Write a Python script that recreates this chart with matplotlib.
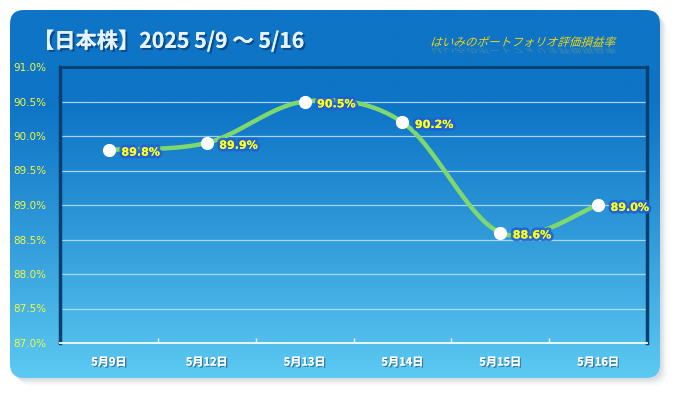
import numpy as np
import matplotlib
matplotlib.use("Agg")
import matplotlib.pyplot as plt
from matplotlib.patches import FancyBboxPatch, PathPatch
from matplotlib.textpath import TextPath
from matplotlib.font_manager import FontProperties
from matplotlib.transforms import Affine2D
import matplotlib.patheffects as pe

plt.rcParams['font.family'] = ['Noto Sans CJK JP', 'DejaVu Sans']

# ---- data ----
categories = ["5月9日", "5月12日", "5月13日", "5月14日", "5月15日", "5月16日"]
values = [89.8, 89.9, 90.5, 90.2, 88.6, 89.0]
y_ticks = [87.0, 87.5, 88.0, 88.5, 89.0, 89.5, 90.0, 90.5, 91.0]
title = "【日本株】2025 5/9 ～ 5/16"
subtitle = "はいみのポートフォリオ評価損益率"

W, H = 675, 393
fig = plt.figure(figsize=(W / 100, H / 100), dpi=100)
fig.patch.set_facecolor("white")

# ---- background panel ----
bg = fig.add_axes([0, 0, 1, 1])
bg.set_xlim(0, W)
bg.set_ylim(H, 0)
bg.axis("off")

# shadow
for i, a in enumerate([0.10, 0.08, 0.06, 0.04]):
    off = 2 + i * 1.8
    sh = FancyBboxPatch((10 + off, 10 + off), 650, 368, boxstyle="round,pad=0,rounding_size=14",
                        fc="#6a7f90", ec="none", alpha=a)
    bg.add_patch(sh)

panel = FancyBboxPatch((10, 10), 650, 368, boxstyle="round,pad=0,rounding_size=14",
                       fc="none", ec="none")
bg.add_patch(panel)
top = np.array([0x0E, 0x74, 0xC6]) / 255
bot = np.array([0x5C, 0xCA, 0xF2]) / 255
t = np.linspace(0, 1, 256)
t2 = np.clip((t - 0.25) / 0.75, 0, 1) ** 1.1
grad = (top[None, :] * (1 - t2[:, None]) + bot[None, :] * t2[:, None])[:, None, :]
im = bg.imshow(grad, extent=[10, 660, 378, 10], aspect="auto", zorder=1)
im.set_clip_path(panel)

# title
bg.text(33, 41, title, fontsize=15.3, fontweight="bold", color="#E6F2FC", va="center", ha="left",
        zorder=5, path_effects=[pe.withSimplePatchShadow(offset=(1.5, -1.5), shadow_rgbFace="#0a3a6a", alpha=0.7),
                                pe.Normal()])

# subtitle (italic via skew)
fp = FontProperties(family="Noto Sans CJK JP", size=12)
tp = TextPath((0, 0), subtitle, prop=fp)
ext = tp.get_extents()
sx = 183 / ext.width
tr = Affine2D().skew_deg(18, 0).scale(sx, -sx).translate(430, 46)
bg.add_patch(PathPatch(tr.transform_path(tp), fc="#F2D410", ec="none", zorder=6))
trr = Affine2D().skew_deg(18, 0).scale(sx, sx * 0.6).translate(430, 48)
bg.add_patch(PathPatch(trr.transform_path(tp), fc="#E8D040", ec="none", alpha=0.25, zorder=5))

# ---- plot area ----
L, R, T, B = 60, 647, 67, 343
ax = fig.add_axes([L / W, (H - B) / H, (R - L) / W, (B - T) / H])
ax.set_facecolor("none")
x = np.arange(len(categories))
ax.set_xlim(-0.5, len(categories) - 0.5)
ax.set_ylim(y_ticks[0], y_ticks[-1])

for yv in y_ticks[1:]:
    ax.axhline(yv, color="#BFE3FA", lw=0.9, zorder=1, alpha=0.85)

# Catmull-Rom smoothing
def catmull(xs, ys, n=30):
    P = np.column_stack([xs, ys]).astype(float)
    P = np.vstack([P[0], P, P[-1]])
    out = []
    for i in range(1, len(P) - 2):
        p0, p1, p2, p3 = P[i - 1], P[i], P[i + 1], P[i + 2]
        tt = np.linspace(0, 1, n, endpoint=False)[:, None]
        c1 = p1 + (p2 - p0) / 6
        c2 = p2 - (p3 - p1) / 6
        seg = ((1 - tt) ** 3) * p1 + 3 * ((1 - tt) ** 2) * tt * c1 + 3 * (1 - tt) * tt ** 2 * c2 + tt ** 3 * p2
        out.append(seg)
    out.append(P[-2][None, :])
    out = np.vstack(out)
    return out[:, 0], out[:, 1]

sx_, sy_ = catmull(x, values)
ax.plot(sx_, sy_, color="#7ED86E", lw=3.2, solid_capstyle="round", zorder=3)
ax.plot(x, values, "o", ms=8.5, mfc="white", mec="white", zorder=4)

for xi, v in zip(x, values):
    ax.annotate(f"{v:.1f}%", (xi, v), xytext=(9, -2), textcoords="offset points",
                ha="left", va="center", fontsize=8, fontweight="bold", color="#FFFF1A",
                family=["DejaVu Sans"], zorder=5,
                path_effects=[pe.withStroke(linewidth=4, foreground="#1F5FD6", alpha=0.85), pe.Normal()])

ax.set_yticks(y_ticks)
ax.set_yticklabels([f"{v:.1f}%" for v in y_ticks], fontsize=7.5, color="#F4F840", family=["DejaVu Sans"])
ax.tick_params(axis="y", length=0, pad=10)
ax.set_xticks(x)
ax.set_xticklabels(categories, fontsize=8, fontweight="bold", color="white")
for lab in ax.get_xticklabels():
    lab.set_path_effects([pe.withSimplePatchShadow(offset=(1, -1), shadow_rgbFace="#2a6a90", alpha=0.8), pe.Normal()])
ax.tick_params(axis="x", which="major", length=0, pad=9)
ax.set_xticks(np.arange(-0.5, len(categories)), minor=True)
ax.tick_params(axis="x", which="minor", length=3.5, color="#EAF6FF", width=1, direction="in")

for s in ["left", "right", "top"]:
    ax.spines[s].set_color("#0B3F70")
ax.spines["left"].set_linewidth(2.5)
ax.spines["right"].set_linewidth(2.5)
ax.spines["top"].set_linewidth(2)
ax.spines["bottom"].set_color("#EAF6FF")
ax.spines["bottom"].set_linewidth(1.2)
ax.spines["bottom"].set_path_effects([pe.withSimplePatchShadow(offset=(0, -2), shadow_rgbFace="#0B3F70", alpha=0.9), pe.Normal()])

fig.savefig("out.png", dpi=100)
